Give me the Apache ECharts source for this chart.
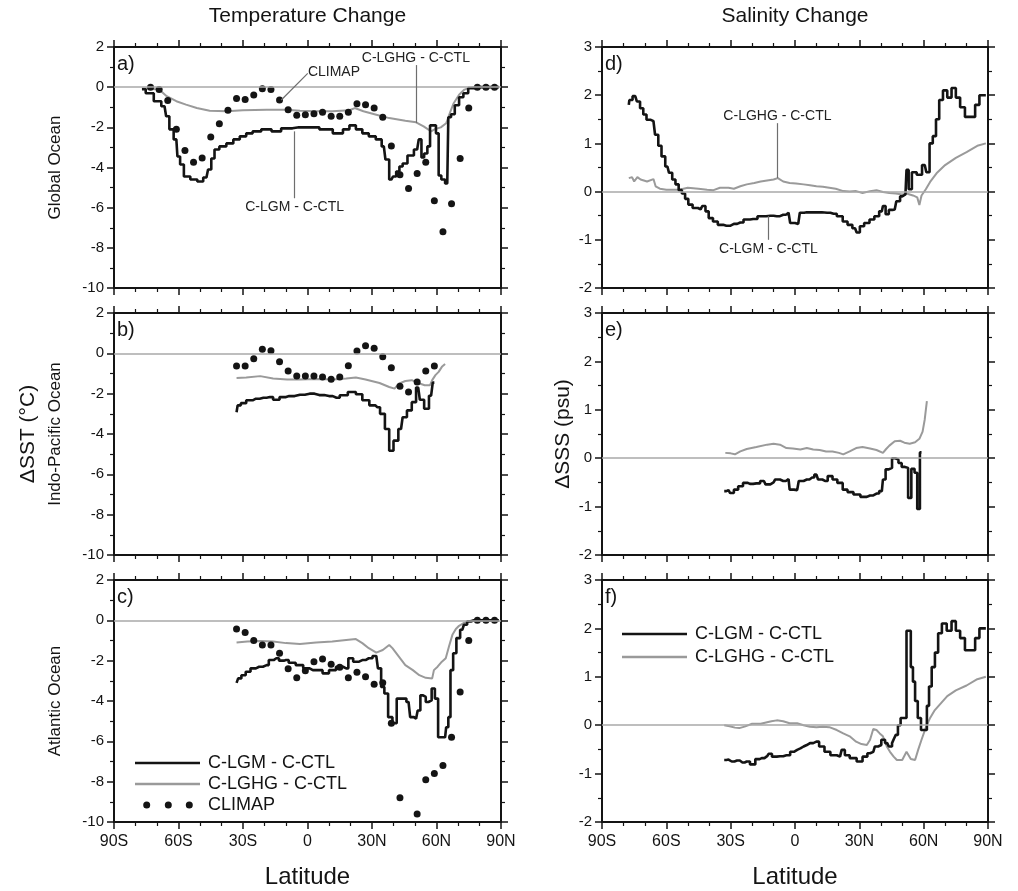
<!DOCTYPE html>
<html>
<head>
<meta charset="utf-8">
<script src="https://cdn.jsdelivr.net/npm/echarts@6/dist/echarts.min.js"></script>
<style>
  html, body { margin: 0; padding: 0; background: #ffffff; }
  #chart { width: 1018px; height: 891px; }
</style>
</head>
<body>
<div id="chart"></div>
<script>
// ---------- tick labels ----------
const latTickLabels = ['90S', '60S', '30S', '0', '30N', '60N', '90N'];

// ---------- a) Global ocean, SST change (°C) ----------
const aLgm = [[-77,-0.1],[-73.5,-0.3],[-69.5,-0.7],[-66.5,-0.95],[-65,-1.45],[-63.5,-2.1],[-61,-2.6],[-60,-3.45],[-58.5,-3.85],[-56.5,-4.45],[-52.5,-4.6],[-50,-4.7],[-47,-4.5],[-45.5,-4.1],[-44,-3.55],[-42.5,-3.1],[-39.5,-2.95],[-36,-2.8],[-33,-2.6],[-30,-2.45],[-27,-2.3],[-24,-2.2],[-19,-2.1],[-14.5,-2.2],[-10,-2.05],[-4,-2.0],[2.5,-2.0],[8.5,-2.1],[15,-2.3],[18,-2.1],[21,-1.9],[24,-2.1],[27,-2.3],[30,-2.45],[33.5,-2.6],[35.5,-2.95],[37,-3.6],[39,-4.6],[40.5,-4.45],[42,-4.2],[43.5,-3.95],[45,-3.8],[48,-3.4],[51,-3.1],[52.5,-2.6],[53.5,-3.5],[55,-3.3],[56.5,-2.95],[57.5,-1.9],[59,-1.9],[60.5,-2.3],[61.5,-4.4],[63,-4.6],[65,-4.8],[66,-1.5],[67.5,-1.35],[69.5,-0.9],[71.5,-0.5],[73.5,-0.3],[76,-0.05],[80,0],[85,0],[89,0]];
const aLghg = [[-77,-0.05],[-69,-0.12],[-65.5,-0.45],[-61,-0.7],[-56.5,-0.87],[-51.5,-1.04],[-45.5,-1.17],[-37.5,-1.2],[-30,-1.15],[-19,-1.12],[-10,-1.12],[-3.5,-1.17],[4,-1.2],[11.5,-1.2],[19.5,-1.15],[22,-1.04],[26,-1.2],[32,-1.37],[38,-1.54],[45.5,-1.67],[50.5,-1.75],[54,-1.95],[57.5,-2.2],[59.5,-2.08],[62,-2.0],[64.5,-1.8],[66.5,-1.2],[68,-0.8],[70.5,-0.38],[73,-0.12],[75,-0.05],[78,0],[89,0]];
const climapLatA = [-73,-69,-65,-61,-57,-53,-49,-45,-41,-37,-33,-29,-25,-21,-17,-13,-9,-5,-1,3,7,11,15,19,23,27,31,35,39,43,47,51,55,59,63,67,71,75,79,83,87];
const climapA = [0,-0.12,-0.67,-2.1,-3.15,-3.74,-3.53,-2.48,-1.82,-1.15,-0.57,-0.62,-0.39,-0.08,-0.12,-0.64,-1.12,-1.4,-1.37,-1.32,-1.25,-1.45,-1.45,-1.25,-0.82,-0.87,-1.04,-1.5,-2.93,-4.36,-5.05,-4.3,-3.74,-5.65,-7.2,-5.8,-3.55,-1.04,0,0,0];

// ---------- b) Indo-Pacific, SST change ----------
const bLgm = [[-33,-2.92],[-32,-2.58],[-30,-2.47],[-27,-2.33],[-24,-2.25],[-20.5,-2.2],[-17.5,-2.17],[-14.5,-2.3],[-11.5,-2.17],[-8.5,-2.12],[-3.5,-2.05],[1,-2.0],[5.5,-2.07],[10,-2.12],[13.5,-2.2],[16.5,-2.08],[21,-1.92],[24,-2.03],[27,-2.33],[30.5,-2.58],[32.5,-2.67],[35,-3.0],[37,-3.75],[39,-4.83],[41,-4.33],[43.5,-3.75],[45,-3.17],[47.5,-2.83],[49.5,-2.42],[51.5,-1.7],[53,-2.3],[55.5,-2.75],[57.5,-2.1],[59,-1.45]];
const bLghg = [[-33,-1.22],[-28.5,-1.2],[-22,-1.13],[-16,-1.25],[-9.5,-1.3],[-3.5,-1.3],[4,-1.27],[12,-1.3],[18,-1.25],[22.5,-1.2],[27,-1.3],[33.5,-1.47],[38,-1.67],[40.5,-1.75],[42.5,-1.5],[45.5,-1.37],[48.5,-1.33],[51.5,-1.47],[54.5,-1.58],[57,-1.58],[58,-1.33],[59.5,-1.08],[61,-0.92],[62.5,-0.67],[64,-0.53]];
const climapLatB = [-33,-29,-25,-21,-17,-13,-9,-5,-1,3,7,11,15,19,23,27,31,35,39,43,47,51,55,59];
const climapB = [-0.63,-0.63,-0.27,0.2,0.13,-0.42,-0.87,-1.12,-1.13,-1.13,-1.17,-1.28,-1.17,-0.62,0.12,0.37,0.25,-0.17,-0.72,-1.63,-1.92,-1.42,-0.87,-0.63];

// ---------- c) Atlantic, SST change ----------
const cLgm = [[-33,-3.1],[-31.5,-2.88],[-30,-2.72],[-27.5,-2.55],[-25.5,-2.38],[-22.5,-2.3],[-19,-2.22],[-17,-1.97],[-14.5,-1.88],[-12,-2.0],[-10,-1.97],[-7.5,-2.1],[-3.5,-2.22],[-0.5,-2.38],[2.5,-2.47],[5.5,-2.47],[8.5,-2.63],[11.5,-2.47],[15,-2.3],[18,-2.38],[20,-1.88],[22.5,-2.05],[25.5,-1.97],[28.5,-1.88],[32,-1.77],[33.5,-2.38],[35,-3.3],[36.5,-3.63],[38.5,-4.8],[40.5,-5.1],[42.5,-3.88],[45,-3.88],[47,-4.05],[48.5,-4.8],[50.5,-4.88],[52,-4.47],[53,-3.72],[54.5,-3.8],[55.5,-4.05],[57,-3.97],[58.5,-3.38],[60,-3.88],[61.5,-5.8],[64,-5.8],[65,-5.3],[66,-4.8],[67,-2.47],[68.5,-1.63],[70,-0.88],[72,-0.47],[73.5,-0.22],[75,-0.05],[77.5,0],[89,0]];
const cLghg = [[-33,-1.1],[-28,-1.05],[-22,-1.02],[-16,-1.05],[-10,-1.13],[-3.5,-1.17],[4,-1.1],[11.5,-1.05],[18,-0.97],[22.5,-0.93],[25.5,-1.13],[28.5,-1.38],[32,-1.6],[35,-1.47],[38,-1.22],[39.5,-1.38],[42.5,-1.8],[45.5,-2.22],[49,-2.47],[52,-2.72],[55,-2.85],[58,-2.88],[58.8,-2.47],[60.5,-2.3],[62.5,-2.05],[64.3,-1.88],[65.8,-1.3],[67.4,-0.72],[69,-0.43],[70.5,-0.27],[72.8,-0.13],[75,-0.05],[77,0],[89,0]];
const climapLatC = [-33,-29,-25,-21,-17,-13,-9,-5,-1,3,7,11,15,19,23,27,31,35,39,43,51,55,59,63,67,71,75,79,83,87];
const climapC = [-0.43,-0.6,-1.0,-1.22,-1.22,-1.63,-2.4,-2.85,-2.5,-2.05,-1.92,-2.18,-2.33,-2.85,-2.58,-2.8,-3.17,-3.1,-5.1,-8.8,-9.6,-7.9,-7.6,-7.2,-5.8,-3.55,-1.0,0,0,0];

// ---------- d) Global ocean, SSS change (psu) ----------
const dLgm = [[-77.5,1.8],[-77,1.9],[-74.5,1.98],[-73,1.87],[-71.5,1.73],[-70,1.6],[-68.5,1.49],[-66,1.46],[-64.5,1.18],[-63,0.95],[-61.5,0.73],[-59.5,0.52],[-58,0.39],[-56.5,0.25],[-55,0.15],[-53.5,0.03],[-52,-0.04],[-50.5,-0.15],[-49,-0.27],[-46.5,-0.34],[-44,-0.37],[-42.5,-0.3],[-41,-0.41],[-39.5,-0.55],[-37,-0.62],[-35,-0.69],[-32,-0.71],[-28.5,-0.67],[-25.5,-0.64],[-22.5,-0.58],[-19.5,-0.57],[-15.5,-0.51],[-11.5,-0.5],[-8.5,-0.51],[-5.5,-0.48],[-3,-0.44],[-1.5,-0.65],[1.5,-0.67],[3,-0.44],[5.5,-0.43],[10,-0.43],[15,-0.44],[18,-0.46],[21,-0.51],[23.5,-0.62],[25.5,-0.69],[28,-0.76],[29.5,-0.85],[31,-0.72],[33.5,-0.65],[36,-0.58],[38,-0.51],[40.5,-0.41],[41.5,-0.3],[43,-0.47],[44.5,-0.38],[46.5,-0.37],[48,-0.2],[50,-0.1],[51.5,-0.06],[52.5,0.45],[53.5,0.05],[55.5,0.4],[58,0.35],[60.5,0.55],[62,0.4],[63.5,1.0],[65,1.15],[66.5,1.5],[68,1.9],[70,2.1],[72,1.95],[74,2.15],[76,1.95],[78,1.75],[80.5,1.55],[83,1.55],[85,1.8],[87,2.0],[89,2.0]];
const dLghg = [[-77.5,0.28],[-76,0.3],[-75,0.21],[-73.5,0.3],[-72,0.25],[-69,0.21],[-66,0.26],[-65,0.11],[-63,0.06],[-60,0.04],[-54,0.04],[-50,0.08],[-45,0.06],[-41,0.04],[-38,0.03],[-35,0.08],[-31,0.08],[-28.5,0.06],[-25.5,0.11],[-22.5,0.15],[-19,0.18],[-16,0.21],[-13,0.23],[-10,0.25],[-8,0.28],[-5.5,0.21],[-2.5,0.18],[0.5,0.17],[4,0.15],[7,0.13],[10,0.11],[13,0.1],[16,0.08],[19,0.06],[22.5,0.01],[25.5,0],[28.5,0.01],[31.5,-0.03],[35,0.01],[38,0.03],[41,-0.01],[44,-0.03],[47,-0.04],[50,-0.06],[52,-0.04],[55,-0.08],[57,-0.12],[58,-0.28],[59,-0.08],[61,0.05],[63,0.2],[66,0.38],[70,0.55],[75,0.7],[80,0.82],[85,0.95],[89,1.0]];

// ---------- e) Indo-Pacific, SSS change ----------
const eLgm = [[-33,-0.68],[-31,-0.66],[-29.5,-0.72],[-27.5,-0.65],[-25.5,-0.58],[-23,-0.51],[-21,-0.53],[-18,-0.52],[-14.5,-0.47],[-13,-0.54],[-10,-0.5],[-8.5,-0.44],[-5.5,-0.47],[-3,-0.43],[-2,-0.65],[1,-0.66],[2.5,-0.47],[5.5,-0.44],[8,-0.4],[10,-0.34],[11.5,-0.44],[14,-0.47],[16.5,-0.37],[18.5,-0.44],[21,-0.51],[23.5,-0.65],[25.5,-0.7],[29,-0.75],[32,-0.8],[35,-0.77],[38,-0.73],[40.5,-0.68],[41.5,-0.44],[43,-0.23],[44.5,-0.2],[46,0.0],[47.5,-0.03],[49,-0.1],[50.5,-0.18],[52,-0.2],[53.5,-0.82],[55,-0.22],[56.5,-0.3],[57.5,-1.05],[59,0.12]];
const eLghg = [[-32.5,0.11],[-30,0.1],[-28,0.08],[-25.5,0.14],[-22.5,0.19],[-18,0.23],[-13,0.28],[-10,0.3],[-7,0.28],[-4,0.21],[-1,0.2],[2.5,0.18],[5.5,0.21],[8.5,0.18],[11.5,0.17],[14.5,0.14],[17.5,0.14],[20.5,0.11],[22.5,0.08],[25.5,0.14],[28.5,0.21],[31.5,0.23],[35,0.2],[38,0.17],[41,0.11],[42.5,0.19],[44,0.26],[46.5,0.35],[49,0.36],[51,0.32],[53.5,0.3],[56,0.33],[58,0.4],[59.5,0.55],[60.5,0.8],[61.5,1.18]];

// ---------- f) Atlantic, SSS change ----------
const fLgm = [[-33,-0.72],[-31,-0.71],[-29.5,-0.75],[-27,-0.73],[-24.5,-0.77],[-22.5,-0.75],[-19.5,-0.81],[-17.5,-0.7],[-15.5,-0.68],[-13,-0.64],[-11.5,-0.59],[-10,-0.65],[-7,-0.64],[-4,-0.62],[-0.5,-0.55],[1,-0.51],[2.5,-0.48],[4,-0.44],[5.5,-0.41],[7,-0.37],[10,-0.34],[12.5,-0.44],[15,-0.55],[18,-0.62],[21,-0.65],[22.5,-0.51],[24,-0.62],[27,-0.68],[30.5,-0.75],[32.5,-0.65],[35,-0.58],[36.5,-0.55],[38,-0.44],[39.5,-0.41],[41,-0.3],[43,-0.37],[44.5,-0.44],[46,-0.37],[46.5,-0.27],[47.5,-0.2],[48.5,0.0],[50,0.15],[51.5,0.15],[52.5,1.95],[53.5,1.95],[54.5,1.2],[55.5,0.9],[56.5,0.5],[58,0.15],[59.5,-0.1],[61,-0.1],[62,0.4],[63,0.8],[64.5,1.2],[66,1.5],[67.5,1.9],[69.5,2.1],[72,1.95],[74,2.15],[76,1.95],[78,1.8],[80.5,1.55],[83,1.55],[85,1.8],[87,2.0],[89,2.0]];
const fLghg = [[-33,0],[-30.5,-0.02],[-28,-0.05],[-26,-0.06],[-23.5,-0.03],[-20,0.03],[-16,0.03],[-13,0.06],[-11,0.08],[-8.5,0.1],[-5.5,0.08],[-2.5,0.04],[1,0.04],[4,0],[7,-0.03],[10,-0.04],[13,-0.03],[16,-0.04],[19.5,-0.1],[22.5,-0.17],[25.5,-0.23],[28.5,-0.34],[31,-0.39],[33.5,-0.41],[35,-0.3],[36.5,-0.08],[38,-0.1],[39.5,-0.17],[41,-0.23],[42.8,-0.44],[44.3,-0.55],[46,-0.65],[47.5,-0.72],[50,-0.72],[52,-0.55],[54,-0.7],[56,-0.72],[57.5,-0.5],[59,-0.3],[61,-0.05],[63,0.15],[65,0.3],[68,0.45],[71,0.6],[75,0.72],[80,0.82],[85,0.95],[89,1.0]];

// ---------- curve call-outs (text anchor and leader line, in data units) ----------
const notesA = [
  { text: 'CLIMAP', at: [12.3, 0.77], from: [0.1, 0.69], to: [-12.2, -0.64] },
  { text: 'C-LGHG - C-CTL', at: [50.4, 1.44], from: [50.4, 1.1], to: [50.4, -1.78] },
  { text: 'C-LGM - C-CTL', at: [-6, -5.95], from: [-6, -5.53], to: [-6, -2.2] }
];
const notesD = [
  { text: 'C-LGHG - C-CTL', at: [-8.2, 1.56], from: [-8.2, 1.42], to: [-8.2, 0.28] },
  { text: 'C-LGM - C-CTL', at: [-12.4, -1.19], from: [-12.4, -1.0], to: [-12.4, -0.51] }
];

// ---------- layout and styling ----------
const FONT = '"Liberation Sans", Arial, Helvetica, sans-serif';
const INK = '#141414';
const GREY = '#9a9a9a';
const COLS = [{ left: 114, width: 387 }, { left: 602, width: 386 }];
const ROWS = [{ top: 47, height: 241 }, { top: 313, height: 242 }, { top: 580, height: 242 }];

const panels = [
  { tag: 'a)', col: 0, row: 0, y: [-10, 2, 2], lgm: aLgm, lghg: aLghg, cLat: climapLatA, cVal: climapA, notes: notesA, side: 'Global Ocean' },
  { tag: 'b)', col: 0, row: 1, y: [-10, 2, 2], lgm: bLgm, lghg: bLghg, cLat: climapLatB, cVal: climapB, side: 'Indo-Pacific Ocean' },
  { tag: 'c)', col: 0, row: 2, y: [-10, 2, 2], lgm: cLgm, lghg: cLghg, cLat: climapLatC, cVal: climapC, side: 'Atlantic Ocean' },
  { tag: 'd)', col: 1, row: 0, y: [-2, 3, 1], lgm: dLgm, lghg: dLghg, notes: notesD },
  { tag: 'e)', col: 1, row: 1, y: [-2, 3, 1], lgm: eLgm, lghg: eLghg },
  { tag: 'f)', col: 1, row: 2, y: [-2, 3, 1], lgm: fLgm, lghg: fLghg }
];

const axisLine = { show: true, onZero: false, lineStyle: { color: INK, width: 2 } };
const majorTick = { show: true, inside: false, length: 7, lineStyle: { color: INK, width: 1.5 } };

const grid = [], xAxis = [], yAxis = [], series = [], graphic = [];

panels.forEach((p, i) => {
  const g = { left: COLS[p.col].left, width: COLS[p.col].width, top: ROWS[p.row].top, height: ROWS[p.row].height };
  grid.push(g);

  ['bottom', 'top'].forEach((pos, k) => {
    xAxis.push({
      type: 'value', gridIndex: i, position: pos, min: -90, max: 90, interval: 30,
      axisLine, axisTick: majorTick,
      minorTick: { show: true, splitNumber: 3, length: 4, lineStyle: { color: INK, width: 1.2 } },
      splitLine: { show: false }, minorSplitLine: { show: false },
      axisLabel: {
        show: k === 0 && p.row === 2, margin: 12, color: INK, fontSize: 16, fontFamily: FONT,
        formatter: v => latTickLabels[Math.round((v + 90) / 30)]
      }
    });
  });
  ['left', 'right'].forEach((pos, k) => {
    yAxis.push({
      type: 'value', gridIndex: i, position: pos, min: p.y[0], max: p.y[1], interval: p.y[2],
      axisLine, axisTick: majorTick,
      minorTick: { show: true, splitNumber: 2, length: 4, lineStyle: { color: INK, width: 1.2 } },
      splitLine: { show: false }, minorSplitLine: { show: false },
      axisLabel: { show: k === 0, margin: 10, color: INK, fontSize: 15, fontFamily: FONT }
    });
  });

  // C-LGHG minus control (grey), carries the zero reference line
  series.push({
    type: 'line', name: 'C-LGHG - C-CTL', xAxisIndex: 2 * i, yAxisIndex: 2 * i,
    data: p.lghg, symbol: 'none', showSymbol: false, z: 2,
    lineStyle: { color: GREY, width: 2 }, itemStyle: { color: GREY },
    markLine: {
      silent: true, symbol: ['none', 'none'], label: { show: false },
      lineStyle: { color: '#a8a8a8', width: 1.6, type: 'solid' },
      data: [{ yAxis: 0 }]
    }
  });

  // C-LGM minus control (black staircase)
  const lgmSeries = {
    type: 'line', name: 'C-LGM - C-CTL', xAxisIndex: 2 * i, yAxisIndex: 2 * i,
    data: p.lgm, step: 'middle', symbol: 'none', showSymbol: false, z: 3,
    lineStyle: { color: INK, width: 2.6 }, itemStyle: { color: INK }
  };
  if (p.notes) {
    lgmSeries.markLine = {
      silent: true, symbol: ['none', 'none'], label: { show: false },
      lineStyle: { color: '#6e6e6e', width: 1.2, type: 'solid' },
      data: p.notes.map(n => [{ coord: n.from }, { coord: n.to }])
    };
    lgmSeries.markPoint = {
      silent: true, symbol: 'circle', symbolSize: 0,
      label: { show: true, position: 'inside', formatter: '{b}', color: '#222', fontSize: 14, fontFamily: FONT },
      data: p.notes.map(n => ({ name: n.text, coord: n.at }))
    };
  }
  series.push(lgmSeries);

  // CLIMAP reconstruction
  if (p.cLat) {
    series.push({
      type: 'scatter', name: 'CLIMAP', xAxisIndex: 2 * i, yAxisIndex: 2 * i, z: 4,
      data: p.cLat.map((lat, j) => [lat, p.cVal[j]]),
      symbol: 'circle', symbolSize: 7, itemStyle: { color: INK, opacity: 1 }
    });
  }

  graphic.push({
    type: 'text', left: g.left + 3, top: g.top + 7,
    style: { text: p.tag, font: `20px ${FONT}`, fill: INK }
  });
  if (p.side) {
    graphic.push({
      type: 'text', x: 55, y: g.top + g.height / 2, rotation: Math.PI / 2,
      style: { text: p.side, font: `17px ${FONT}`, fill: INK, align: 'center', verticalAlign: 'middle' }
    });
  }
});

// column titles, axis titles
const colCenter = c => COLS[c].left + COLS[c].width / 2;
const midRow = ROWS[1].top + ROWS[1].height / 2;
graphic.push(
  { type: 'text', x: colCenter(0), y: 16, style: { text: 'Temperature Change', font: `21px ${FONT}`, fill: INK, align: 'center', verticalAlign: 'middle' } },
  { type: 'text', x: colCenter(1), y: 16, style: { text: 'Salinity Change', font: `21px ${FONT}`, fill: INK, align: 'center', verticalAlign: 'middle' } },
  { type: 'text', x: colCenter(0), y: 877, style: { text: 'Latitude', font: `24px ${FONT}`, fill: INK, align: 'center', verticalAlign: 'middle' } },
  { type: 'text', x: colCenter(1), y: 877, style: { text: 'Latitude', font: `24px ${FONT}`, fill: INK, align: 'center', verticalAlign: 'middle' } },
  { type: 'text', x: 28, y: midRow, rotation: Math.PI / 2, style: { text: 'ΔSST (°C)', font: `21px ${FONT}`, fill: INK, align: 'center', verticalAlign: 'middle' } },
  { type: 'text', x: 563, y: midRow, rotation: Math.PI / 2, style: { text: 'ΔSSS (psu)', font: `21px ${FONT}`, fill: INK, align: 'center', verticalAlign: 'middle' } }
);

// legend glyphs: a 2.4 px bar for the curves, three dots for CLIMAP (65 x 14 box)
const BOX = 'M0,0L0.01,0L0.01,0.01Z M64.99,13.99L65,13.99L65,14Z ';
const BAR = 'path://' + BOX + 'M0,5.8L65,5.8L65,8.2L0,8.2Z';
const DOTS = 'path://' + BOX +
  'M8.2,7a3.5,3.5 0 1,0 7,0a3.5,3.5 0 1,0 -7,0Z ' +
  'M29.8,7a3.5,3.5 0 1,0 7,0a3.5,3.5 0 1,0 -7,0Z ' +
  'M50.8,7a3.5,3.5 0 1,0 7,0a3.5,3.5 0 1,0 -7,0Z';

const legendBase = {
  orient: 'vertical', padding: 0, itemWidth: 65, itemHeight: 14, selectedMode: false,
  itemStyle: { borderWidth: 0 },
  textStyle: { fontSize: 18, lineHeight: 17, fontFamily: FONT, color: INK, padding: [0, 0, 0, 3] }
};
const legendItems = [
  { name: 'C-LGM - C-CTL', icon: BAR },
  { name: 'C-LGHG - C-CTL', icon: BAR }
];

const chart = echarts.init(document.getElementById('chart'), null, { renderer: 'canvas' });
chart.setOption({
  animation: false,
  backgroundColor: '#ffffff',
  textStyle: { fontFamily: FONT },
  grid, xAxis, yAxis, series, graphic,
  legend: [
    Object.assign({}, legendBase, { left: 135, top: 754, itemGap: 3, data: legendItems.concat([{ name: 'CLIMAP', icon: DOTS }]) }),
    Object.assign({}, legendBase, { left: 622, top: 625, itemGap: 5, data: legendItems })
  ]
});
</script>
</body>
</html>
